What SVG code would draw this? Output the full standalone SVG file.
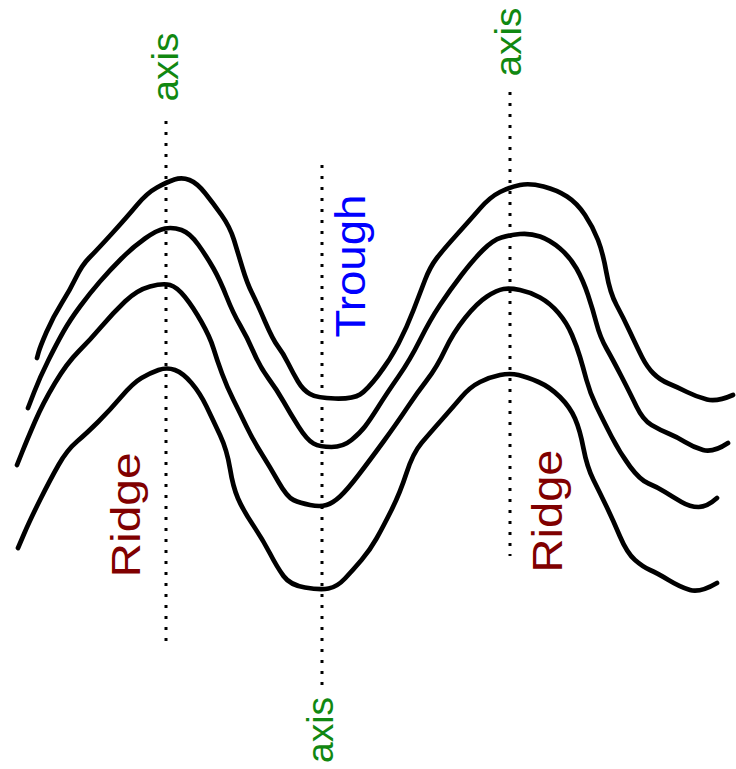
<svg xmlns="http://www.w3.org/2000/svg" width="736" height="769" viewBox="0 0 736 769">
<style>
.c{fill:none;stroke:#000;stroke-width:4.7;stroke-linejoin:round;stroke-linecap:round}
.ax{fill:none;stroke:#000;stroke-width:3;stroke-dasharray:3 8}
.t{font-family:"Liberation Sans",Arial,sans-serif;text-anchor:middle}
.g{fill:#118811}
.r{fill:#800000}
.b{fill:#0000ff}
</style>
<rect width="736" height="769" fill="#fff"/>
<g id="axes">
<line class="ax" x1="166" y1="121" x2="166" y2="642"/>
<line class="ax" x1="322" y1="165" x2="322" y2="690"/>
<line class="ax" x1="510" y1="92" x2="510" y2="556"/>
</g>
<g id="contours">
<path id="c1" class="c" d="M37,358 L38.5,352.5 Q40,347 46.5,332 Q53,317 61.5,303.5 Q70,290 76,277.5 Q82,265 89.5,257.5 Q97,250 112,233.5 Q127,217 137,205 Q147,193 157,187.5 Q167,182 174.5,179.5 Q182,177 189.5,180 Q197,183 205,193 Q213,203 221.5,215 Q230,227 234,240 Q238,253 242.5,268 Q247,283 252,293 Q257,303 265,321.5 Q273,340 278,346.5 Q283,353 288,363 Q293,373 298,381.5 Q303,390 310,394 Q317,398 335,398.5 Q353,399 360,394.5 Q367,390 378.5,375 Q390,360 398.5,343.5 Q407,327 413.5,310 Q420,293 425,280 Q430,267 436.5,258.5 Q443,250 456.5,235 Q470,220 480,208.5 Q490,197 500,192 Q510,187 520,185 Q530,183 543.5,186.5 Q557,190 567,196.5 Q577,203 585,215 Q593,227 598,240 Q603,253 606.5,273 Q610,293 616.5,305 Q623,317 630,332 Q637,347 642,357 Q647,367 653.5,373.5 Q660,380 668.5,383.5 Q677,387 687,392 Q697,397 707,399.5 Q717,402 733,395"/>
<path id="c2" class="c" d="M28,408 L34,392.5 Q40,377 48.5,360 Q57,343 63.5,331.5 Q70,320 80,306.5 Q90,293 100,281.5 Q110,270 121.5,258.5 Q133,247 145,238.5 Q157,230 165,228.5 Q173,227 181.5,230 Q190,233 198.5,245 Q207,257 213.5,268.5 Q220,280 226.5,296.5 Q233,313 240,325 Q247,337 253.5,352 Q260,367 268.5,378.5 Q277,390 283.5,401.5 Q290,413 298.5,426.5 Q307,440 313.5,443.5 Q320,447 331.5,447 Q343,447 351.5,440 Q360,433 365,426.5 Q370,420 378.5,406.5 Q387,393 398.5,376.5 Q410,360 420,340 Q430,320 440,305 Q450,290 461.5,275 Q473,260 483,250 Q493,240 501.5,237.5 Q510,235 520,234 Q530,233 540,236.5 Q550,240 560,248.5 Q570,257 576.5,268.5 Q583,280 588,295 Q593,310 596.5,323.5 Q600,337 606.5,348.5 Q613,360 621.5,376.5 Q630,393 636.5,406.5 Q643,420 651.5,425 Q660,430 668.5,433.5 Q677,437 685,442 Q693,447 703,450 Q713,453 728,443"/>
<path id="c3" class="c" d="M17,465 L22,452.5 Q27,440 35,421.5 Q43,403 55,383 Q67,363 78.5,351.5 Q90,340 101.5,326.5 Q113,313 125,301.5 Q137,290 150,286.5 Q163,283 170,285 Q177,287 185,297 Q193,307 201.5,322 Q210,337 213.5,348.5 Q217,360 222,373.5 Q227,387 233.5,400 Q240,413 246.5,426.5 Q253,440 261.5,453.5 Q270,467 278.5,482 Q287,497 293.5,500 Q300,503 310,505 Q320,507 326.5,505 Q333,503 340,496.5 Q347,490 358.5,475 Q370,460 383.5,441.5 Q397,423 407,408 Q417,393 427,380 Q437,367 445,350 Q453,333 465,318 Q477,303 487,296.5 Q497,290 503.5,289 Q510,288 520,290 Q530,292 540,297.5 Q550,303 558.5,313 Q567,323 572,335 Q577,347 580,357 Q583,367 586.5,380 Q590,393 596.5,406.5 Q603,420 611.5,436.5 Q620,453 630,466.5 Q640,480 648.5,483.5 Q657,487 665,492 Q673,497 681.5,502 Q690,507 698.5,507 Q707,507 717,498"/>
<path id="c4" class="c" d="M18,548 L24,534 Q30,520 40,500 Q50,480 58.5,465 Q67,450 77,441.5 Q87,433 98.5,421.5 Q110,410 121.5,396.5 Q133,383 141.5,378 Q150,373 158.5,370 Q167,367 175,370 Q183,373 191.5,383 Q200,393 206.5,406.5 Q213,420 220,435 Q227,450 230,468.5 Q233,487 238,498.5 Q243,510 253,525 Q263,540 270,553.5 Q277,567 283.5,576 Q290,585 305,587.5 Q320,590 328.5,588.5 Q337,587 345,578.5 Q353,570 361.5,560 Q370,550 376.5,538.5 Q383,527 391.5,510 Q400,493 406.5,473 Q413,453 421.5,443 Q430,433 441.5,420 Q453,407 461.5,397 Q470,387 480,382 Q490,377 500,375 Q510,373 518.5,375 Q527,377 538.5,382 Q550,387 560,397 Q570,407 575,418.5 Q580,430 583.5,448.5 Q587,467 593.5,480 Q600,493 606.5,506.5 Q613,520 620,536.5 Q627,553 635,560 Q643,567 650,570 Q657,573 668.5,580 Q680,587 690,590 Q700,593 717,583"/>
</g>
<g id="labels">
<text class="t g" font-size="37" textLength="69" lengthAdjust="spacingAndGlyphs" transform="translate(178,67) rotate(-90)">axis</text>
<text class="t g" font-size="37" textLength="69" lengthAdjust="spacingAndGlyphs" transform="translate(521,42) rotate(-90)">axis</text>
<text class="t g" font-size="37" textLength="66" lengthAdjust="spacingAndGlyphs" transform="translate(333,730) rotate(-90)">axis</text>
<text class="t b" font-size="43" textLength="143" lengthAdjust="spacingAndGlyphs" transform="translate(365,266) rotate(-90)">Trough</text>
<text class="t r" font-size="40" textLength="125" lengthAdjust="spacingAndGlyphs" transform="translate(140,515) rotate(-90)">Ridge</text>
<text class="t r" font-size="42" textLength="123" lengthAdjust="spacingAndGlyphs" transform="translate(562,511) rotate(-90)">Ridge</text>
</g>
</svg>
